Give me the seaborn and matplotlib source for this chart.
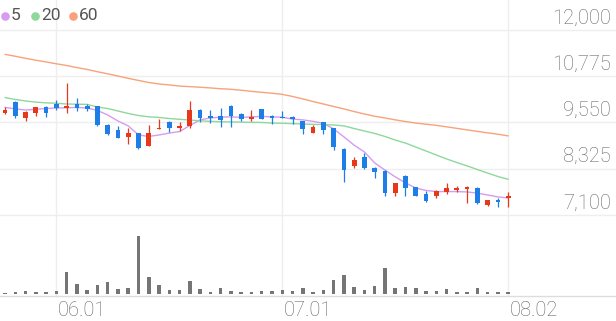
import numpy as np
import pandas as pd
import matplotlib
matplotlib.use("Agg")
import matplotlib.pyplot as plt
import matplotlib.transforms as mtransforms
from matplotlib.lines import Line2D
import seaborn as sns

# ---------------- data ----------------
dates_ticks = ["06.01", "07.01", "08.02"]
tick_idx = [5, 27, 49]
price_ticks = [7100, 8325, 9550, 10775, 12000]

opens = [9790, 10100, 9660, 9810, 9950, 10030, 9930, 10030, 9980, 9990,
         9480, 9350, 9160, 9270, 8930, 9380, 9570, 9400, 9470, 9880,
         9720, 9720, 10000, 9770, 9640, 9900, 9730, 9700, 9700, 9590,
         9260, 9550, 9400, 8850, 8400, 8630, 8340, 8270, 7680, 8130,
         7830, 7660, 7590, 7720, 7760, 7790, 7810, 7370, 7500, 7540]
highs = [9970, 10120, 9860, 9970, 9990, 10150, 10590, 10190, 10030, 10000,
         9510, 9460, 9400, 9280, 9480, 9640, 9590, 9550, 10120, 9910,
         9880, 9930, 10010, 9790, 9880, 9910, 9750, 9860, 9720, 9600,
         9480, 9560, 9410, 8880, 8640, 8730, 8360, 8290, 7960, 8150,
         7840, 7740, 7760, 7940, 7870, 7860, 7830, 7500, 7540, 7720]
lows = [9770, 9680, 9600, 9720, 9690, 9890, 9790, 9860, 9860, 9470,
        9220, 9130, 8980, 8840, 8920, 9370, 9310, 9330, 9400, 9550,
        9530, 9440, 9440, 9590, 9590, 9630, 9500, 9660, 9500, 9240,
        9260, 9240, 8820, 7980, 8350, 8320, 8070, 7600, 7610, 7590,
        7590, 7450, 7540, 7660, 7720, 7430, 7390, 7350, 7320, 7320]
closes = [9870, 9730, 9820, 9950, 9810, 9930, 9990, 9930, 9920, 9480,
          9250, 9150, 9280, 8870, 9260, 9410, 9400, 9470, 9880, 9660,
          9660, 9620, 9720, 9640, 9690, 9640, 9660, 9660, 9640, 9370,
          9440, 9350, 8910, 8290, 8560, 8350, 8230, 7690, 7940, 7810,
          7610, 7480, 7740, 7810, 7810, 7850, 7410, 7500, 7450, 7590]

ma5 = [9950, 9910, 9880, 9900, 9920, 9935, 9940, 9950, 9935, 9870,
       9750, 9590, 9460, 9220, 9180, 9220, 9270, 9310, 9470, 9620,
       9670, 9690, 9700, 9685, 9700, 9710, 9700, 9690, 9640, 9620,
       9580, 9530, 9380, 9170, 8950, 8770, 8480, 8290, 8110, 7950,
       7815, 7750, 7720, 7720, 7720, 7710, 7680, 7630, 7580, 7550]
ma20 = [10210, 10160, 10120, 10090, 10070, 10060, 10040, 10035, 10030, 9960,
        9920, 9855, 9790, 9735, 9700, 9685, 9655, 9635, 9615, 9595,
        9580, 9570, 9565, 9560, 9555, 9550, 9535, 9530, 9520, 9510,
        9500, 9495, 9485, 9460, 9390, 9325, 9260, 9180, 9085, 9005,
        8900, 8795, 8690, 8585, 8490, 8400, 8305, 8210, 8120, 8045]
ma60 = [11355, 11305, 11250, 11200, 11155, 11105, 11060, 11005, 10955, 10895,
        10840, 10780, 10720, 10665, 10610, 10570, 10545, 10515, 10500, 10485,
        10465, 10445, 10430, 10405, 10375, 10350, 10325, 10295, 10240, 10175,
        10105, 10040, 9975, 9910, 9840, 9775, 9715, 9670, 9620, 9575,
        9535, 9505, 9475, 9435, 9395, 9355, 9315, 9275, 9240, 9195]

volumes = [4, 7, 9, 7, 7, 9, 67, 30, 12, 27,
           37, 14, 17, 174, 50, 27, 13, 13, 38, 14,
           6, 19, 10, 7, 5, 9, 10, 11, 8, 17,
           6, 13, 42, 56, 22, 12, 24, 77, 19, 22,
           19, 10, 9, 14, 6, 5, 19, 6, 6, 6]
volumes = [v * 1000 for v in volumes]

ma_labels = ["5", "20", "60"]
ma_colors = ["#d59cf0", "#8ed89c", "#f8a27c"]
up_color = "#e8381c"
down_color = "#1c7ee6"
vol_color = "#757575"
grid_color = "#eeeeee"
text_color = "#666666"

# ---------------- figure ----------------
sns.set_theme(style="white")
plt.rcParams["font.family"] = ["Roboto", "DejaVu Sans"]

W, H = 616, 321
fig = plt.figure(figsize=(W / 100, H / 100), dpi=100)
ax = fig.add_axes([0, 25 / H, 1, 296 / H])

n = len(opens)
idx = np.arange(n)
df = pd.DataFrame({"i": idx, "open": opens, "high": highs, "low": lows,
                   "close": closes, "vol": volumes})

# moving averages
ma_df = pd.concat([
    pd.DataFrame({"i": idx, "value": vals, "ma": lab})
    for lab, vals in zip(ma_labels, [ma5, ma20, ma60])
])
sns.lineplot(data=ma_df, x="i", y="value", hue="ma", hue_order=ma_labels,
             palette=ma_colors, linewidth=1.0, legend=False, ax=ax, zorder=2)

# candles
up = df["close"] >= df["open"]
cols = np.where(up, up_color, down_color)
ax.vlines(df["i"], df["low"], df["high"], colors=cols, linewidth=0.9, zorder=3)
body_bottom = np.minimum(df["open"], df["close"])
body_h = np.maximum(np.abs(df["close"] - df["open"]), 25)
ax.bar(df["i"], body_h, bottom=body_bottom, width=0.46, color=cols,
       linewidth=0, zorder=4)

ax.set_xlim(-0.487, 59.5)
ax.set_ylim(4954, 12795)
ax.set_xlabel("")
ax.set_ylabel("")

# grid
ax.set_yticks(price_ticks)
ax.set_xticks(tick_idx)
ax.tick_params(axis="both", length=0, labelleft=False, labelbottom=False)
ax.grid(True, color=grid_color, linewidth=1.0, zorder=0)
ax.set_axisbelow(True)
for s in ["top", "right", "left"]:
    ax.spines[s].set_visible(False)
ax.spines["bottom"].set_color("#dddddd")
ax.spines["bottom"].set_linewidth(1.0)

# y labels inside, above gridlines, right aligned
ytrans = mtransforms.blended_transform_factory(ax.transAxes, ax.transData)
yoff = mtransforms.offset_copy(ytrans, fig=fig, x=-5, y=6.5, units="dots")
for p in price_ticks:
    ax.text(1.0, p, f"{p:,}", transform=yoff, ha="right", va="baseline",
            fontsize=14.5, color=text_color, fontweight="light")

# x labels: left aligned at the tick
xtrans = mtransforms.blended_transform_factory(ax.transData, fig.transFigure)
xoff = mtransforms.offset_copy(xtrans, fig=fig, x=1.5, y=0, units="dots")
for i, lab in zip(tick_idx, dates_ticks):
    ax.text(i, 4.5 / H, lab, transform=xoff, ha="left", va="baseline",
            fontsize=14.5, color=text_color, fontweight="light")

# volume
axv = ax.twinx()
axv.bar(df["i"], df["vol"], width=0.34, color=vol_color, linewidth=0, zorder=1)
axv.set_xlim(-0.487, 59.5)
axv.set_ylim(-6000, 882000)
axv.set_yticks([])
axv.set_xlabel("")
axv.set_ylabel("")
for s in axv.spines.values():
    s.set_visible(False)
axv.patch.set_alpha(0)

# legend at top left
leg_x = [5, 35, 73]
for lx, lab, c in zip(leg_x, ma_labels, ma_colors):
    fig.add_artist(Line2D([lx / W], [1 - 15.5 / H], marker="o", markersize=6.2,
                          color=c, markeredgewidth=0, linestyle="none",
                          transform=fig.transFigure))
    fig.text((lx + 6) / W, 1 - 15.5 / H, lab, ha="left", va="center",
             fontsize=12.5, color="#555555")

fig.savefig("out.png", dpi=100)
